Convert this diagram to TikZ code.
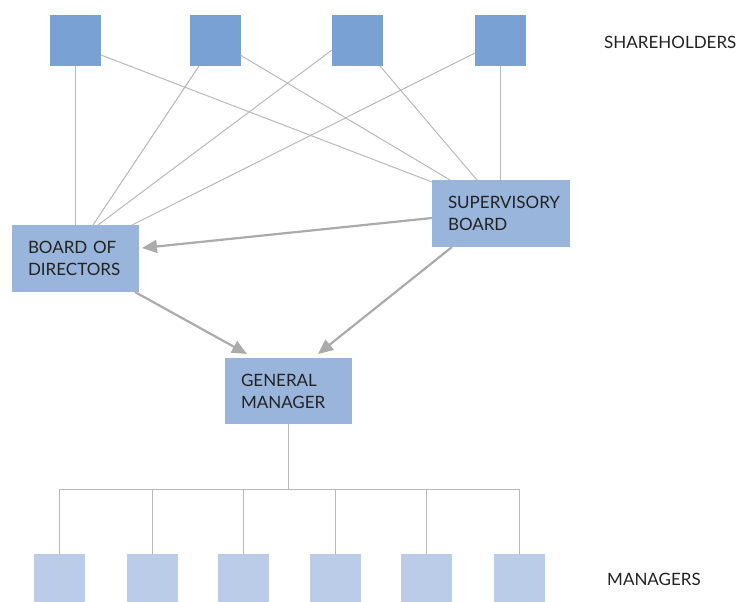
\documentclass[tikz,border=0pt]{standalone}
\usepackage{fontspec}
\setmainfont{Lato}
\usetikzlibrary{arrows.meta,calc}
\definecolor{topc}{HTML}{7AA1D3}
\definecolor{midc}{HTML}{9AB5DC}
\definecolor{lowc}{HTML}{BACCE7}
\definecolor{linec}{HTML}{B8B8B8}
\definecolor{arrc}{HTML}{ABABAB}
\definecolor{txt}{HTML}{222222}
\begin{document}
\begin{tikzpicture}[x=1pt,y=-1pt,
  sq/.style={anchor=north west, minimum width=51pt, minimum height=51pt, inner sep=0pt, outer sep=0pt},
  topbox/.style={sq, fill=topc},
  mgrbox/.style={sq, fill=lowc, minimum height=48pt},
  midbox/.style={anchor=north west, fill=midc, inner xsep=16pt, inner ysep=0pt, align=left, text=txt, font=\fontsize{17}{22}\selectfont, outer sep=0pt},
  conn/.style={draw=linec, line width=1pt},
  flow/.style={draw=arrc, line width=2.2pt, -{Triangle[length=15pt,width=13pt]}},
  lbl/.style={anchor=west, text=txt, font=\fontsize{17}{20}\selectfont, inner sep=0pt}]
\useasboundingbox (0,0) rectangle (744,602);

% shareholders
\node[topbox] (s1) at (50,15) {};
\node[topbox] (s2) at (190,15) {};
\node[topbox] (s3) at (332,15) {};
\node[topbox] (s4) at (475,15) {};
\node[lbl] (shl) at (604,42) {SHAREHOLDERS};

% boards
\node[midbox, text width=95pt, minimum height=67pt] (bod) at (12,225) {BOARD OF\\DIRECTORS};
\node[midbox, text width=106pt, minimum height=67pt] (sb) at (432,180) {SUPERVISORY\\BOARD};
\node[midbox, text width=95pt, minimum height=66pt] (gm) at (225,358) {GENERAL\\MANAGER};

% managers
\node[mgrbox] (m1) at (34,554) {};
\node[mgrbox] (m2) at (127,554) {};
\node[mgrbox] (m3) at (218,554) {};
\node[mgrbox] (m4) at (310,554) {};
\node[mgrbox] (m5) at (401,554) {};
\node[mgrbox] (m6) at (494,554) {};
\node[lbl] (mgl) at (607,579) {MANAGERS};

% shareholder connectors
\draw[conn] (s1.south) -- (s1.south |- bod.north);
\draw[conn] ([yshift=-14.5pt]s1.east) -- ([yshift=-2pt]sb.north west);
\draw[conn] ([xshift=9pt]s2.south west) -- ([xshift=81pt]bod.north west);
\draw[conn] ([yshift=-15pt]s2.east) -- ([xshift=18pt]sb.north west);
\draw[conn] ([yshift=-9.5pt]s3.west) -- ([xshift=86pt]bod.north west);
\draw[conn] ([xshift=-3pt]s3.south east) -- ([xshift=45pt]sb.north west);
\draw[conn] ([yshift=-12.5pt]s4.west) -- ([xshift=-7pt]bod.north east);
\draw[conn] (s4.south) -- (s4.south |- sb.north);

% flows
\draw[flow] ([yshift=-38pt]sb.north west) -- ([shift={(3pt,-23pt)}]bod.north east);
\draw[flow] ([xshift=-4pt]bod.south east) -- ([shift={(22pt,4pt)}]gm.north west);
\draw[flow] ([xshift=20pt]sb.south west) -- ([shift={(-34pt,4pt)}]gm.north east);

% tree to managers
\coordinate (bus) at (288.5,489);
\draw[conn] (gm.south) -- (bus);
\foreach \m in {m1,m2,m3,m4,m5,m6}{
  \draw[conn] (\m.north) |- (bus);
}
\end{tikzpicture}
\end{document}
